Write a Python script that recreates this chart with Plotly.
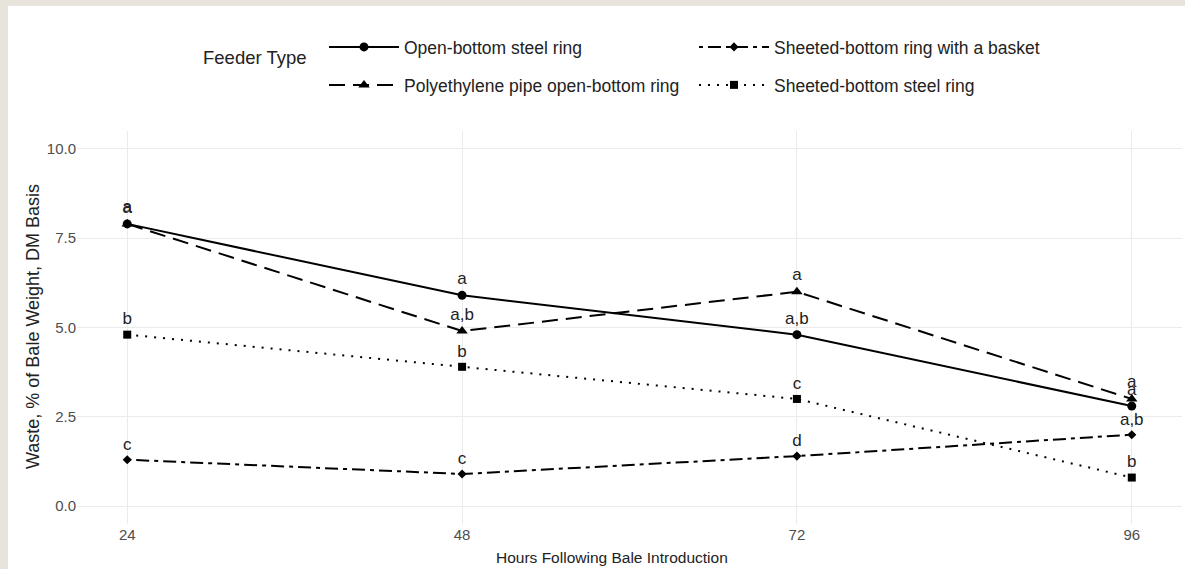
import plotly.graph_objects as go

hours = [24, 48, 72, 96]
series_names = [
    "Open-bottom steel ring",
    "Sheeted-bottom ring with a basket",
    "Polyethylene pipe open-bottom ring",
    "Sheeted-bottom steel ring",
]
open_bottom = [7.9, 5.9, 4.8, 2.8]
sheeted_basket = [1.3, 0.9, 1.4, 2.0]
polyethylene = [7.9, 4.9, 6.0, 3.0]
sheeted_steel = [4.8, 3.9, 3.0, 0.8]

open_bottom_letters = ["a", "a", "a,b", "a"]
sheeted_basket_letters = ["c", "c", "d", "a,b"]
polyethylene_letters = ["a", "a,b", "a", "a"]
sheeted_steel_letters = ["b", "b", "c", "b"]

y_ticks = [0.0, 2.5, 5.0, 7.5, 10.0]

FONT = "Liberation Sans, Arial, sans-serif"

styles = [
    dict(dash="solid", symbol="circle", size=9, legend="legend"),
    dict(dash="4px,5px,13px,5px", symbol="diamond", size=7, legend="legend"),
    dict(dash="16px,8px", symbol="triangle-up", size=10, legend="legend2"),
    dict(dash="2px,7px", symbol="square", size=8, legend="legend2"),
]
values = [open_bottom, sheeted_basket, polyethylene, sheeted_steel]
letters = [open_bottom_letters, sheeted_basket_letters, polyethylene_letters, sheeted_steel_letters]

fig = go.Figure()
for name, vals, lets, st in zip(series_names, values, letters, styles):
    fig.add_trace(go.Scatter(
        x=hours, y=vals, name=name, mode="lines+markers+text",
        text=lets, textposition="top center",
        textfont=dict(family=FONT, size=17, color="#222222"),
        line=dict(color="black", width=2, dash=st["dash"]),
        marker=dict(color="black", symbol=st["symbol"], size=st["size"]),
        legend=st["legend"],
    ))

W, H = 1185, 569
L, R, T, B = 77, 3, 131, 45
pw, ph = W - L - R, H - T - B


def px_x(p):
    return (p - L) / pw


def px_y(p):
    return (H - B - p) / ph


legend_common = dict(
    orientation="h", xanchor="left", yanchor="middle",
    font=dict(family=FONT, size=17.5, color="#222222"),
    entrywidth=285, entrywidthmode="pixels", bgcolor="rgba(0,0,0,0)",
    itemwidth=70, traceorder="normal",
)

fig.update_layout(
    width=W, height=H,
    margin=dict(l=L, r=R, t=T, b=B, autoexpand=False),
    paper_bgcolor="#e8e4dc",
    plot_bgcolor="white",
    showlegend=True,
    legend=dict(x=px_x(324), y=px_y(47), **legend_common),
    legend2=dict(x=px_x(324), y=px_y(85), **legend_common),
    xaxis=dict(
        range=[20.4, 99.6], tickvals=hours, ticktext=[str(h) for h in hours],
        showgrid=True, gridcolor="#ebebeb", gridwidth=1, zeroline=False,
        showline=False, ticks="",
        tickfont=dict(family=FONT, size=15, color="#4d4d4d"),
    ),
    yaxis=dict(
        range=[-0.5, 10.5], tickvals=y_ticks, ticktext=[f"{v:.1f}" for v in y_ticks],
        showgrid=True, gridcolor="#ebebeb", gridwidth=1, zeroline=False,
        showline=False, ticks="",
        tickfont=dict(family=FONT, size=15, color="#4d4d4d"),
    ),
    shapes=[dict(
        type="rect", xref="paper", yref="paper", layer="below",
        x0=px_x(8), x1=px_x(W + 20), y0=px_y(H + 20), y1=px_y(6),
        fillcolor="white", line=dict(width=0),
    )],
    annotations=[
        dict(text="Feeder Type", xref="paper", yref="paper", x=px_x(255), y=px_y(57),
             showarrow=False, xanchor="center", yanchor="middle",
             font=dict(family=FONT, size=18.5, color="#222222")),
        dict(text="Waste, % of Bale Weight, DM Basis", xref="paper", yref="paper",
             x=px_x(33), y=px_y(327), textangle=-90, showarrow=False,
             xanchor="center", yanchor="middle",
             font=dict(family=FONT, size=18, color="#222222")),
        dict(text="Hours Following Bale Introduction", xref="paper", yref="paper",
             x=px_x(612), y=px_y(557), showarrow=False, xanchor="center", yanchor="middle",
             font=dict(family=FONT, size=15.5, color="#222222")),
    ],
)

fig.write_html(
    "out.html",
    config={"displayModeBar": False},
    post_script="document.body.style.margin='0';document.body.style.padding='0';",
)
